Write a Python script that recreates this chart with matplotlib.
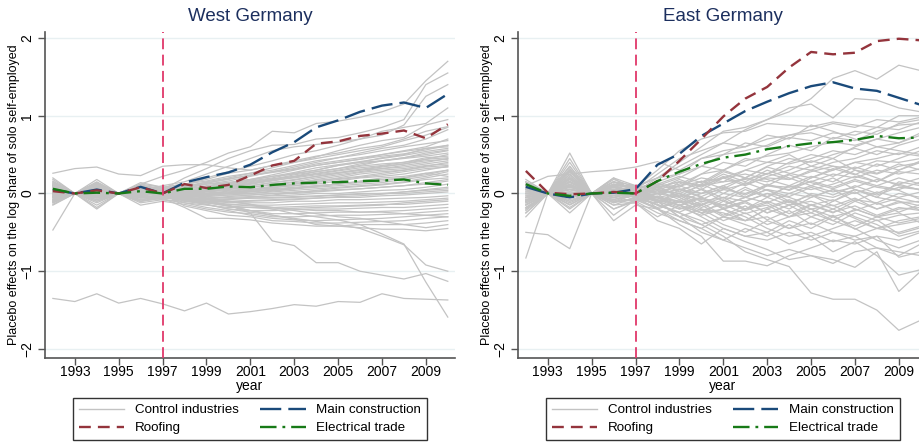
import numpy as np
import matplotlib
matplotlib.use("Agg")
import matplotlib.pyplot as plt
from matplotlib.lines import Line2D


# ==================================
# DATA
# ==================================

years = list(range(1992, 2011))
xticks = [1993, 1995, 1997, 1999, 2001, 2003, 2005, 2007, 2009]
yticks = [-2, -1, 0, 1, 2]

west_main = [0.05, 0.0, 0.05, 0.0, 0.085, 0.0, 0.14, 0.21, 0.27, 0.37, 0.53, 0.66, 0.85, 0.94, 1.05, 1.13, 1.17, 1.10, 1.28]
west_roof = [0.03, 0.0, 0.04, 0.0, 0.08, 0.0, 0.12, 0.07, 0.11, 0.23, 0.36, 0.42, 0.64, 0.67, 0.74, 0.77, 0.81, 0.71, 0.89]
west_elec = [0.06, 0.0, 0.01, 0.0, 0.03, 0.0, 0.06, 0.06, 0.09, 0.08, 0.11, 0.13, 0.14, 0.145, 0.16, 0.165, 0.18, 0.13, 0.11]

east_main = [0.085, 0.0, -0.05, 0.0, 0.01, 0.055, 0.37, 0.51, 0.74, 0.90, 1.06, 1.18, 1.29, 1.38, 1.43, 1.35, 1.32, 1.23, 1.14]
east_roof = [0.29, 0.01, -0.01, 0.0, 0.02, 0.0, 0.16, 0.42, 0.70, 0.99, 1.22, 1.37, 1.62, 1.82, 1.79, 1.81, 1.96, 1.99, 1.97]
east_elec = [0.12, 0.0, -0.03, 0.0, 0.01, 0.0, 0.16, 0.28, 0.38, 0.46, 0.50, 0.57, 0.61, 0.645, 0.66, 0.69, 0.74, 0.71, 0.72]

west_controls = [
    [0.26, 0.32, 0.34, 0.25, 0.23, 0.35, 0.37, 0.37, 0.33, 0.30, 0.36, 0.40, 0.45, 0.50, 0.55, 0.60, 0.68, 0.75, 0.85],
    [0.10, 0.0, 0.05, 0.0, 0.12, 0.22, 0.30, 0.40, 0.52, 0.60, 0.80, 0.78, 0.90, 0.93, 0.98, 1.05, 1.15, 1.45, 1.70],
    [0.05, 0.0, 0.02, 0.0, 0.05, 0.05, 0.20, 0.32, 0.45, 0.55, 0.62, 0.63, 0.70, 0.72, 0.78, 0.85, 0.95, 1.40, 1.55],
    [0.02, 0.0, -0.02, 0.0, 0.04, 0.10, 0.15, 0.25, 0.35, 0.45, 0.55, 0.60, 0.63, 0.66, 0.70, 0.75, 0.88, 1.25, 1.40],
    [0.0, 0.0, 0.0, 0.0, 0.02, 0.05, 0.10, 0.20, 0.28, 0.35, 0.42, 0.50, 0.55, 0.62, 0.70, 0.80, 0.85, 0.90, 1.10],
    [0.06, 0.0, 0.03, 0.0, 0.0, 0.02, 0.08, 0.15, 0.20, 0.26, 0.33, 0.40, 0.47, 0.55, 0.62, 0.68, 0.72, 0.88, 0.95],
    [-0.05, 0.0, -0.03, 0.0, 0.05, 0.03, 0.06, 0.12, 0.16, 0.22, 0.28, 0.34, 0.40, 0.46, 0.52, 0.58, 0.62, 0.70, 0.82],
    [0.12, 0.0, 0.08, 0.0, 0.08, 0.06, 0.05, 0.10, 0.14, 0.18, 0.24, 0.30, 0.36, 0.40, 0.44, 0.50, 0.55, 0.60, 0.70],
    [0.03, 0.0, 0.10, 0.0, 0.03, 0.0, 0.04, 0.08, 0.12, 0.16, 0.20, 0.26, 0.30, 0.36, 0.40, 0.46, 0.50, 0.58, 0.62],
    [-0.08, 0.0, -0.05, 0.0, -0.02, 0.0, 0.02, 0.06, 0.10, 0.12, 0.18, 0.22, 0.28, 0.32, 0.36, 0.42, 0.46, 0.50, 0.55],
    [0.15, 0.0, 0.18, 0.0, 0.10, 0.04, 0.03, 0.05, 0.08, 0.10, 0.14, 0.18, 0.22, 0.26, 0.30, 0.34, 0.38, 0.44, 0.50],
    [-0.12, 0.0, -0.10, 0.0, -0.05, -0.02, 0.0, 0.03, 0.06, 0.08, 0.12, 0.15, 0.20, 0.24, 0.28, 0.32, 0.36, 0.40, 0.45],
    [0.08, 0.0, 0.04, 0.0, 0.06, 0.0, -0.02, 0.02, 0.04, 0.06, 0.09, 0.12, 0.15, 0.20, 0.25, 0.28, 0.30, 0.35, 0.40],
    [-0.02, 0.0, 0.06, 0.0, 0.0, -0.03, -0.01, 0.0, 0.03, 0.05, 0.08, 0.10, 0.12, 0.16, 0.20, 0.22, 0.25, 0.30, 0.35],
    [0.20, 0.0, 0.12, 0.0, 0.08, 0.02, 0.0, 0.02, 0.0, 0.02, 0.04, 0.06, 0.10, 0.12, 0.15, 0.18, 0.20, 0.26, 0.30],
    [-0.15, 0.0, -0.18, 0.0, -0.08, -0.05, -0.04, -0.02, 0.0, 0.0, 0.02, 0.04, 0.06, 0.08, 0.10, 0.12, 0.15, 0.20, 0.25],
    [0.04, 0.0, -0.08, 0.0, 0.02, 0.0, -0.05, -0.04, -0.02, -0.02, 0.0, 0.02, 0.03, 0.05, 0.06, 0.08, 0.10, 0.14, 0.18],
    [-0.10, 0.0, 0.0, 0.0, -0.06, -0.04, -0.06, -0.06, -0.05, -0.04, -0.03, -0.02, 0.0, 0.0, 0.02, 0.04, 0.05, 0.08, 0.12],
    [0.10, 0.0, 0.15, 0.0, 0.10, 0.05, -0.02, -0.06, -0.08, -0.06, -0.05, -0.04, -0.03, -0.02, -0.01, 0.0, 0.02, 0.04, 0.06],
    [-0.06, 0.0, -0.12, 0.0, -0.10, -0.06, -0.08, -0.10, -0.10, -0.09, -0.08, -0.07, -0.06, -0.05, -0.05, -0.03, -0.02, 0.0, 0.02],
    [0.0, 0.0, 0.0, 0.0, 0.04, 0.04, -0.04, -0.08, -0.12, -0.12, -0.12, -0.10, -0.10, -0.08, -0.08, -0.07, -0.06, -0.05, -0.03],
    [0.18, 0.0, 0.10, 0.0, 0.06, 0.0, -0.10, -0.12, -0.14, -0.15, -0.15, -0.14, -0.13, -0.12, -0.12, -0.11, -0.10, -0.08, -0.06],
    [-0.14, 0.0, -0.20, 0.0, -0.12, -0.08, -0.12, -0.15, -0.18, -0.18, -0.18, -0.17, -0.16, -0.16, -0.15, -0.14, -0.14, -0.12, -0.10],
    [0.05, 0.0, 0.05, 0.0, -0.10, -0.04, -0.08, -0.14, -0.20, -0.22, -0.22, -0.21, -0.20, -0.20, -0.19, -0.18, -0.18, -0.16, -0.14],
    [-0.04, 0.0, 0.02, 0.0, 0.12, 0.08, -0.05, -0.10, -0.16, -0.22, -0.26, -0.26, -0.25, -0.24, -0.24, -0.23, -0.22, -0.20, -0.18],
    [0.0, 0.0, -0.15, 0.0, -0.15, -0.10, -0.14, -0.20, -0.24, -0.26, -0.30, -0.30, -0.29, -0.28, -0.28, -0.27, -0.26, -0.24, -0.22],
    [0.12, 0.0, 0.06, 0.0, 0.0, -0.02, -0.12, -0.18, -0.22, -0.28, -0.32, -0.34, -0.35, -0.34, -0.33, -0.32, -0.30, -0.28, -0.26],
    [-0.10, 0.0, -0.08, 0.0, 0.08, 0.0, -0.16, -0.22, -0.28, -0.30, -0.35, -0.36, -0.38, -0.38, -0.37, -0.36, -0.35, -0.32, -0.30],
    [0.02, 0.0, -0.04, 0.0, -0.05, -0.06, -0.18, -0.32, -0.32, -0.34, -0.38, -0.40, -0.42, -0.42, -0.40, -0.40, -0.40, -0.38, -0.35],
    [-0.47, 0.0, 0.0, 0.0, -0.02, 0.02, -0.05, -0.08, -0.10, -0.14, -0.18, -0.22, -0.26, -0.30, -0.32, -0.36, -0.40, -0.44, -0.40],
    [0.08, 0.0, 0.02, 0.0, -0.04, -0.08, -0.10, -0.14, -0.20, -0.24, -0.28, -0.33, -0.40, -0.42, -0.44, -0.46, -0.46, -0.48, -0.45],
    [0.0, 0.0, 0.0, 0.0, 0.0, 0.0, -0.05, -0.10, -0.15, -0.25, -0.61, -0.67, -0.89, -0.89, -1.00, -1.05, -1.10, -1.03, -1.13],
    [0.03, 0.0, -0.04, 0.0, 0.0, -0.02, -0.06, -0.12, -0.16, -0.22, -0.28, -0.32, -0.36, -0.40, -0.45, -0.55, -0.66, -0.92, -1.00],
    [-0.03, 0.0, 0.04, 0.0, 0.02, 0.0, -0.02, -0.06, -0.10, -0.14, -0.20, -0.26, -0.30, -0.34, -0.40, -0.52, -0.65, -1.14, -1.59],
    [-1.35, -1.39, -1.29, -1.41, -1.35, -1.42, -1.51, -1.41, -1.55, -1.52, -1.48, -1.43, -1.45, -1.39, -1.40, -1.29, -1.35, -1.36, -1.37],
    [0.07, 0.0, 0.12, 0.0, 0.04, 0.02, 0.04, 0.06, 0.10, 0.14, 0.18, 0.24, 0.28, 0.32, 0.38, 0.42, 0.45, 0.48, 0.52],
    [-0.07, 0.0, -0.06, 0.0, 0.03, 0.0, 0.0, 0.04, 0.06, 0.10, 0.14, 0.17, 0.22, 0.26, 0.30, 0.32, 0.34, 0.38, 0.42],
    [0.14, 0.0, 0.05, 0.0, 0.0, 0.04, 0.08, 0.12, 0.14, 0.18, 0.22, 0.25, 0.30, 0.36, 0.40, 0.42, 0.46, 0.52, 0.56],
    [0.0, 0.0, 0.07, 0.0, 0.09, 0.06, 0.0, -0.02, -0.02, 0.0, 0.03, 0.06, 0.08, 0.10, 0.12, 0.14, 0.18, 0.22, 0.28],
    [-0.12, 0.0, -0.04, 0.0, -0.03, -0.05, -0.08, -0.06, -0.04, -0.02, 0.0, 0.0, 0.02, 0.04, 0.06, 0.08, 0.10, 0.12, 0.16],
    [0.04, 0.0, 0.14, 0.0, 0.05, 0.08, 0.12, 0.16, 0.22, 0.26, 0.30, 0.36, 0.42, 0.46, 0.50, 0.55, 0.60, 0.64, 0.68],
    [-0.02, 0.0, -0.10, 0.0, -0.08, -0.03, -0.03, -0.04, -0.06, -0.06, -0.06, -0.05, -0.04, -0.02, 0.0, 0.0, 0.0, 0.02, 0.04],
    [0.10, 0.0, 0.0, 0.0, 0.02, -0.04, -0.07, -0.10, -0.14, -0.16, -0.18, -0.20, -0.22, -0.22, -0.24, -0.24, -0.26, -0.28, -0.30],
    [-0.05, 0.0, 0.08, 0.0, 0.14, 0.08, 0.12, 0.18, 0.26, 0.30, 0.36, 0.42, 0.48, 0.52, 0.58, 0.62, 0.70, 0.80, 0.86],
    [0.0, 0.0, -0.02, 0.0, -0.10, -0.06, -0.02, 0.0, 0.0, 0.02, 0.06, 0.08, 0.10, 0.12, 0.14, 0.16, 0.20, 0.24, 0.30],
    [0.09, 0.0, 0.02, 0.0, 0.06, 0.03, 0.02, 0.04, 0.07, 0.12, 0.16, 0.21, 0.26, 0.30, 0.35, 0.38, 0.40, 0.46, 0.48],
    [-0.09, 0.0, 0.09, 0.0, -0.04, 0.01, 0.01, 0.0, 0.02, 0.04, 0.07, 0.12, 0.18, 0.22, 0.27, 0.30, 0.32, 0.36, 0.38],
    [0.03, 0.0, -0.06, 0.0, 0.07, 0.05, 0.10, 0.14, 0.18, 0.24, 0.28, 0.32, 0.38, 0.42, 0.46, 0.50, 0.54, 0.58, 0.60],
    [0.16, 0.0, 0.11, 0.0, 0.02, -0.01, -0.04, -0.03, 0.0, 0.04, 0.08, 0.10, 0.14, 0.18, 0.21, 0.24, 0.28, 0.32, 0.34],
    [-0.04, 0.0, 0.03, 0.0, -0.06, -0.02, 0.03, 0.06, 0.09, 0.13, 0.17, 0.20, 0.24, 0.27, 0.31, 0.35, 0.38, 0.42, 0.44],
    [0.05, 0.0, 0.07, 0.0, 0.11, 0.06, 0.06, 0.09, 0.13, 0.17, 0.22, 0.27, 0.33, 0.37, 0.41, 0.45, 0.49, 0.54, 0.58],
    [-0.11, 0.0, -0.02, 0.0, 0.01, -0.02, -0.03, -0.01, 0.01, 0.03, 0.05, 0.07, 0.09, 0.12, 0.16, 0.20, 0.22, 0.26, 0.22],
    [0.01, 0.0, 0.05, 0.0, -0.03, 0.01, -0.06, -0.08, -0.07, -0.05, -0.02, 0.01, 0.04, 0.07, 0.09, 0.11, 0.14, 0.18, 0.20],
    [0.13, 0.0, -0.03, 0.0, 0.05, 0.07, 0.09, 0.13, 0.19, 0.23, 0.27, 0.31, 0.36, 0.40, 0.44, 0.48, 0.51, 0.56, 0.62],
    [-0.08, 0.0, 0.10, 0.0, 0.0, -0.04, -0.09, -0.11, -0.11, -0.10, -0.09, -0.08, -0.06, -0.04, -0.03, -0.01, 0.02, 0.05, 0.08],
    [0.06, 0.0, -0.05, 0.0, 0.03, 0.02, 0.01, 0.05, 0.11, 0.15, 0.19, 0.22, 0.25, 0.29, 0.33, 0.36, 0.40, 0.44, 0.46],
    [-0.01, 0.0, 0.01, 0.0, 0.08, 0.03, -0.01, 0.03, 0.05, 0.08, 0.11, 0.14, 0.17, 0.19, 0.22, 0.26, 0.30, 0.34, 0.36],
    [0.11, 0.0, 0.13, 0.0, 0.0, 0.0, -0.07, -0.12, -0.16, -0.18, -0.20, -0.19, -0.18, -0.17, -0.16, -0.15, -0.12, -0.10, -0.08],
]

east_controls = [
    [0.05, 0.0, 0.20, 0.0, 0.10, 0.10, 0.20, 0.40, 0.60, 0.80, 0.85, 0.95, 1.05, 1.22, 1.48, 1.58, 1.47, 1.65, 1.58],
    [-0.10, 0.0, 0.30, 0.0, 0.05, 0.05, 0.25, 0.45, 0.55, 0.65, 0.82, 0.95, 1.10, 1.15, 0.97, 1.22, 1.20, 1.10, 1.05],
    [0.10, 0.0, 0.15, 0.0, 0.12, 0.08, 0.30, 0.55, 0.70, 0.78, 0.80, 0.90, 0.88, 0.86, 0.92, 0.88, 0.85, 1.00, 1.00],
    [0.10, 0.22, 0.25, 0.28, 0.30, 0.34, 0.41, 0.30, 0.45, 0.55, 0.60, 0.70, 0.75, 0.82, 0.90, 0.85, 0.95, 0.92, 0.98],
    [-0.15, 0.0, 0.35, 0.0, -0.10, 0.0, 0.10, 0.20, 0.35, 0.50, 0.55, 0.62, 0.75, 0.78, 0.70, 0.80, 0.76, 0.90, 0.95],
    [0.0, 0.0, 0.10, 0.0, 0.20, 0.10, 0.05, 0.12, 0.25, 0.30, 0.42, 0.48, 0.52, 0.60, 0.66, 0.62, 0.70, 0.78, 0.85],
    [-0.20, 0.0, 0.0, 0.0, -0.15, -0.05, 0.0, 0.10, 0.15, 0.20, 0.30, 0.40, 0.38, 0.45, 0.55, 0.50, 0.60, 0.65, 0.75],
    [0.15, 0.0, 0.52, 0.0, 0.15, 0.10, 0.05, 0.0, 0.10, 0.15, 0.18, 0.25, 0.35, 0.30, 0.40, 0.45, 0.55, 0.50, 0.60],
    [-0.05, 0.0, -0.10, 0.0, 0.0, -0.08, -0.12, 0.05, 0.0, 0.10, 0.20, 0.15, 0.25, 0.35, 0.30, 0.40, 0.45, 0.52, 0.48],
    [-0.83, 0.0, 0.05, 0.0, 0.10, 0.0, -0.05, -0.10, 0.0, 0.05, 0.12, 0.20, 0.18, 0.28, 0.35, 0.32, 0.42, 0.40, 0.45],
    [-0.50, -0.53, -0.71, 0.0, 0.05, -0.05, 0.08, 0.15, 0.10, 0.20, 0.25, 0.18, 0.10, 0.22, 0.15, 0.30, 0.25, 0.35, 0.40],
    [0.08, 0.0, 0.28, 0.0, -0.20, -0.10, -0.05, 0.0, -0.08, 0.05, 0.0, 0.10, 0.08, 0.15, 0.25, 0.20, 0.30, 0.25, 0.32],
    [-0.25, 0.0, -0.15, 0.0, 0.18, 0.08, 0.10, -0.05, 0.05, -0.10, 0.05, -0.05, 0.10, 0.05, 0.12, 0.22, 0.15, 0.28, 0.25],
    [0.12, 0.0, 0.18, 0.0, -0.35, -0.15, -0.20, -0.10, -0.15, 0.0, -0.05, 0.05, 0.0, 0.10, 0.02, 0.08, 0.18, 0.12, 0.20],
    [-0.10, 0.0, 0.22, 0.0, 0.0, 0.05, -0.10, -0.20, -0.10, -0.15, -0.05, -0.12, 0.0, -0.05, 0.05, 0.0, 0.10, 0.05, 0.15],
    [0.05, 0.0, -0.20, 0.0, -0.10, -0.12, -0.30, -0.15, -0.25, -0.10, -0.20, -0.05, -0.15, 0.0, -0.05, 0.05, -0.02, 0.08, 0.05],
    [-0.30, 0.0, 0.12, 0.0, 0.08, 0.0, 0.10, 0.05, -0.05, -0.20, -0.12, -0.25, -0.15, -0.10, -0.20, -0.08, -0.12, 0.0, -0.05],
    [0.18, 0.0, 0.40, 0.0, 0.05, -0.05, -0.15, -0.25, -0.40, -0.30, -0.35, -0.20, -0.30, -0.15, -0.25, -0.10, -0.20, -0.12, -0.10],
    [-0.12, 0.0, -0.05, 0.0, -0.28, -0.08, -0.20, -0.30, -0.20, -0.35, -0.25, -0.40, -0.30, -0.25, -0.35, -0.20, -0.30, -0.20, -0.18],
    [0.0, 0.0, 0.30, 0.0, 0.15, 0.05, -0.05, -0.15, -0.25, -0.40, -0.50, -0.35, -0.45, -0.30, -0.40, -0.25, -0.35, -0.28, -0.25],
    [-0.05, 0.0, -0.25, 0.0, -0.05, -0.10, -0.25, -0.35, -0.45, -0.30, -0.40, -0.50, -0.35, -0.45, -0.30, -0.42, -0.30, -0.38, -0.32],
    [0.10, 0.0, 0.05, 0.0, 0.20, 0.0, -0.10, -0.30, -0.50, -0.60, -0.45, -0.55, -0.40, -0.55, -0.45, -0.35, -0.45, -0.40, -0.35],
    [-0.20, 0.0, 0.10, 0.0, -0.15, -0.12, -0.35, -0.45, -0.65, -0.45, -0.55, -0.60, -0.50, -0.60, -0.50, -0.55, -0.45, -0.50, -0.42],
    [0.02, 0.0, 0.35, 0.0, 0.0, 0.05, -0.20, -0.40, -0.55, -0.87, -0.87, -0.93, -0.80, -0.70, -0.60, -0.65, -0.55, -0.60, -0.50],
    [-0.08, 0.0, -0.12, 0.0, 0.10, -0.02, -0.15, -0.25, -0.35, -0.50, -0.62, -0.72, -0.85, -0.80, -0.90, -0.75, -0.70, -0.80, -0.65],
    [0.05, 0.0, 0.15, 0.0, -0.12, 0.0, -0.10, -0.30, -0.40, -0.55, -0.75, -0.85, -0.94, -1.28, -1.36, -1.36, -1.50, -1.76, -1.63],
    [-0.15, 0.0, 0.05, 0.0, 0.05, -0.05, -0.20, -0.35, -0.45, -0.60, -0.70, -0.80, -0.72, -0.80, -0.85, -0.95, -0.75, -1.26, -1.00],
    [0.0, 0.0, -0.05, 0.0, -0.05, 0.02, -0.05, -0.15, -0.30, -0.45, -0.55, -0.50, -0.65, -0.55, -0.75, -0.62, -0.80, -1.05, -0.98],
    [-0.10, 0.0, 0.25, 0.0, 0.10, 0.08, 0.0, -0.05, -0.20, -0.25, -0.35, -0.30, -0.45, -0.38, -0.50, -0.60, -0.55, -0.82, -0.75],
    [0.08, 0.0, 0.10, 0.0, -0.08, 0.0, 0.05, 0.0, -0.10, -0.05, -0.20, -0.15, -0.30, -0.20, -0.35, -0.45, -0.60, -0.70, -0.60],
    [-0.22, 0.0, -0.10, 0.0, 0.12, 0.05, 0.02, 0.10, 0.0, 0.10, -0.05, 0.05, -0.10, -0.20, -0.15, -0.30, -0.40, -0.55, -0.48],
    [0.0, 0.0, 0.20, 0.0, 0.0, -0.05, -0.10, 0.0, -0.15, -0.05, -0.10, 0.0, -0.05, -0.15, -0.08, -0.20, -0.30, -0.25, -0.38],
    [-0.05, 0.0, 0.05, 0.0, -0.20, -0.08, -0.05, 0.15, 0.10, 0.25, 0.15, 0.30, 0.20, 0.10, 0.20, 0.05, -0.05, -0.10, -0.22],
    [0.12, 0.0, 0.0, 0.0, 0.10, 0.0, 0.15, 0.25, 0.35, 0.30, 0.45, 0.40, 0.50, 0.35, 0.45, 0.30, 0.20, 0.10, 0.05],
    [-0.18, 0.0, 0.18, 0.0, 0.0, 0.02, 0.20, 0.35, 0.50, 0.65, 0.60, 0.75, 0.70, 0.88, 0.80, 0.70, 0.60, 0.55, 0.50],
    [0.05, 0.0, -0.08, 0.0, 0.15, 0.05, 0.0, 0.10, 0.20, 0.15, 0.30, 0.25, 0.40, 0.50, 0.45, 0.60, 0.70, 0.65, 0.78],
    [-0.02, 0.0, 0.12, 0.0, -0.05, 0.0, -0.08, -0.15, -0.05, -0.15, -0.05, 0.10, 0.05, 0.20, 0.30, 0.40, 0.35, 0.45, 0.55],
    [0.15, 0.0, 0.08, 0.0, 0.05, 0.08, 0.12, 0.08, 0.25, 0.40, 0.35, 0.50, 0.62, 0.55, 0.72, 0.68, 0.80, 0.88, 0.90],
    [-0.12, 0.0, -0.18, 0.0, -0.10, -0.08, -0.18, -0.10, -0.25, -0.20, -0.35, -0.20, -0.10, -0.25, -0.10, 0.05, -0.05, 0.15, 0.10],
    [0.10, 0.0, 0.02, 0.0, 0.08, 0.05, -0.05, -0.12, -0.05, -0.20, -0.30, -0.45, -0.55, -0.50, -0.62, -0.55, -0.70, -0.75, -0.80],
    [-0.08, 0.0, 0.45, 0.0, 0.12, 0.08, 0.20, 0.25, 0.45, 0.50, 0.65, 0.60, 0.72, 0.68, 0.78, 0.75, 0.85, 0.82, 0.92],
    [0.0, 0.0, -0.02, 0.0, 0.02, -0.02, -0.10, -0.20, -0.15, -0.30, -0.20, -0.10, -0.20, -0.05, 0.05, -0.10, 0.02, -0.05, 0.02],
    [-0.05, 0.0, 0.08, 0.0, -0.03, 0.03, 0.08, 0.15, 0.05, 0.20, 0.10, 0.22, 0.30, 0.42, 0.35, 0.25, 0.15, 0.30, 0.40],
    [0.06, 0.0, 0.32, 0.0, 0.06, -0.03, -0.08, -0.18, -0.28, -0.20, -0.10, -0.25, -0.15, -0.30, -0.20, -0.32, -0.45, -0.35, -0.30],
    [-0.25, 0.0, 0.20, 0.0, 0.15, 0.05, 0.0, 0.05, 0.12, 0.28, 0.20, 0.35, 0.45, 0.40, 0.50, 0.58, 0.50, 0.62, 0.70],
    [0.03, 0.0, 0.14, 0.0, 0.09, 0.02, -0.02, 0.06, -0.04, 0.08, -0.02, 0.12, 0.04, 0.16, 0.08, 0.18, 0.10, 0.20, 0.12],
    [-0.14, 0.0, 0.06, 0.0, -0.12, -0.06, 0.04, -0.08, 0.06, -0.06, 0.08, -0.04, 0.10, -0.02, -0.10, 0.02, -0.14, -0.06, -0.12],
    [0.09, 0.0, 0.24, 0.0, 0.02, 0.04, -0.12, -0.02, -0.18, -0.08, -0.22, -0.12, -0.26, -0.14, -0.24, -0.16, -0.28, -0.18, -0.22],
    [-0.06, 0.0, -0.04, 0.0, 0.08, -0.04, 0.06, 0.18, 0.08, 0.22, 0.12, 0.26, 0.18, 0.30, 0.22, 0.34, 0.26, 0.38, 0.30],
    [0.14, 0.0, 0.10, 0.0, -0.06, 0.06, 0.14, 0.02, 0.16, 0.06, 0.20, 0.10, 0.24, 0.14, 0.06, 0.16, 0.08, 0.04, -0.08],
    [-0.18, 0.0, 0.02, 0.0, 0.04, -0.06, -0.14, -0.24, -0.12, -0.28, -0.16, -0.34, -0.22, -0.40, -0.28, -0.46, -0.34, -0.52, -0.44],
    [0.0, 0.0, 0.16, 0.0, -0.08, 0.0, 0.08, -0.04, 0.12, 0.0, 0.14, 0.04, -0.04, 0.08, -0.02, 0.10, 0.0, 0.12, 0.04],
    [-0.03, 0.0, -0.14, 0.0, 0.04, -0.02, -0.06, -0.16, -0.06, -0.18, -0.10, 0.0, -0.12, -0.02, -0.16, -0.06, -0.20, -0.10, -0.16],
    [0.07, 0.0, 0.28, 0.0, 0.10, 0.02, 0.12, 0.22, 0.14, 0.30, 0.20, 0.34, 0.26, 0.20, 0.32, 0.24, 0.38, 0.30, 0.42],
    [-0.09, 0.0, 0.10, 0.0, -0.02, -0.04, -0.04, -0.10, -0.22, -0.14, -0.26, -0.18, -0.08, -0.20, -0.30, -0.22, -0.12, -0.24, -0.14],
]


# ==================================
# STYLE
# ==================================

plt.rcParams["font.family"] = ["Liberation Sans", "DejaVu Sans"]

GRAY = "#c3c3c3"
BLUE = "#1a4a7a"
RED = "#94343c"
GREEN = "#177a17"
PINK = "#e0386a"
TITLE = "#1c2f5e"


def draw_panel(ax, controls, main, roof, elec, title):

    for c in controls:
        ax.plot(years, c, color=GRAY, lw=0.9, zorder=1)

    ax.plot(years, main, color=BLUE, lw=1.7, dashes=(9, 3), zorder=3)
    ax.plot(years, roof, color=RED, lw=1.7, dashes=(5, 3), zorder=3)
    ax.plot(years, elec, color=GREEN, lw=1.7, dashes=(7, 2.5, 1.2, 2.5), zorder=3)

    ax.axvline(1997, color=PINK, lw=1.3, dashes=(6, 3), zorder=4)

    ax.set_xlim(1991.64, 2010.33)
    ax.set_ylim(-2.116, 2.077)
    ax.set_xticks(xticks)
    ax.set_yticks(yticks)

    for y in yticks:
        ax.axhline(y, color="#e8f0f2", lw=1.0, zorder=0)

    ax.spines["top"].set_visible(False)
    ax.spines["right"].set_visible(False)
    ax.spines["left"].set_color("#555555")
    ax.spines["bottom"].set_color("#555555")
    ax.spines["left"].set_linewidth(1.2)
    ax.spines["bottom"].set_linewidth(1.2)

    ax.tick_params(axis="both", direction="out", length=5, width=1,
                   color="#555555", labelsize=10)
    ax.tick_params(axis="x", pad=0)
    ax.tick_params(axis="y", pad=5)

    # rotated y tick labels, baseline sits just left of the tick
    for lab in ax.get_yticklabels():
        lab.set_rotation(90)
        lab.set_rotation_mode("anchor")
        lab.set_ha("center")
        lab.set_va("baseline")

    ax.set_title(title, color=TITLE, fontsize=13.5, pad=8)
    ax.set_xlabel("year", fontsize=10, labelpad=0)
    ax.set_ylabel("Placebo effects on the log share of solo self-employed",
                  fontsize=9.0)
    ax.yaxis.set_label_coords(-0.062, 0.5)

    handles = [
        Line2D([], [], color=GRAY, lw=1.0),
        Line2D([], [], color=RED, lw=1.7, dashes=(5, 3)),
        Line2D([], [], color=BLUE, lw=1.7, dashes=(9, 3)),
        Line2D([], [], color=GREEN, lw=1.7, dashes=(7, 2.5, 1.2, 2.5)),
    ]
    labels = ["Control industries", "Roofing", "Main construction", "Electrical trade"]

    leg = ax.legend(handles, labels, ncol=2, loc="upper center",
                    bbox_to_anchor=(0.5, -0.1227),
                    fontsize=9.6, handlelength=3.4, handletextpad=0.8,
                    columnspacing=1.6, frameon=True, fancybox=False,
                    edgecolor="black", borderpad=0.45, labelspacing=0.43,
                    borderaxespad=0)
    leg.get_frame().set_linewidth(1.0)


# ==================================
# PLOT
# ==================================

fig = plt.figure(figsize=(9.2, 4.43), dpi=100)

ax1 = fig.add_axes([0.0489, 0.1919, 0.4457, 0.7359])
ax2 = fig.add_axes([0.5630, 0.1919, 0.4457, 0.7359])

draw_panel(ax1, west_controls, west_main, west_roof, west_elec, "West Germany")
draw_panel(ax2, east_controls, east_main, east_roof, east_elec, "East Germany")

fig.savefig("out.png", dpi=100)
